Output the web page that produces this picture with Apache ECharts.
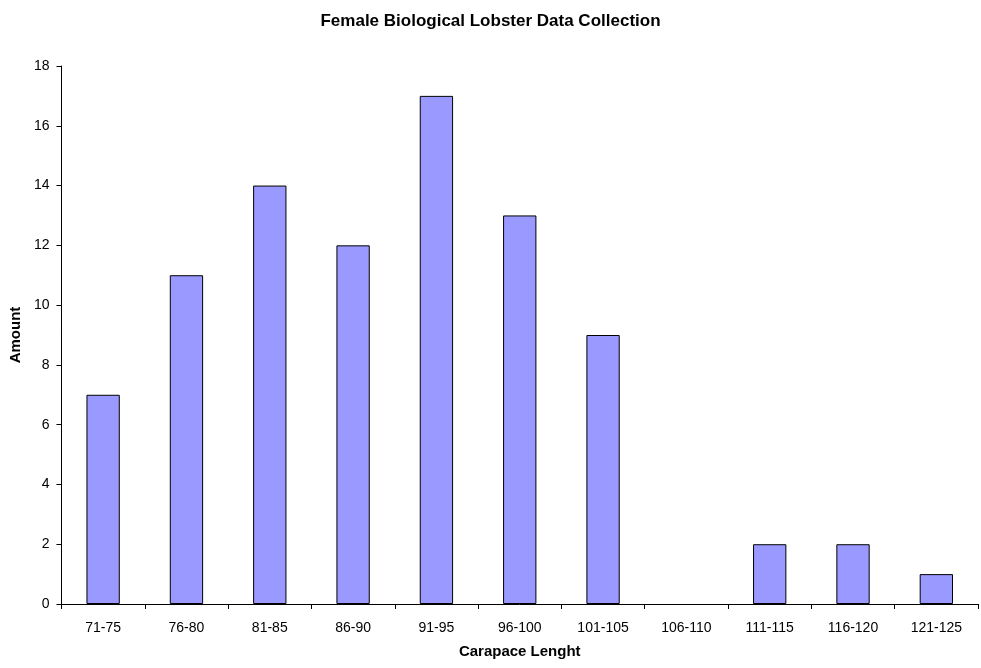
<!DOCTYPE html>
<html><head><meta charset="utf-8">
<script src="https://cdn.jsdelivr.net/npm/echarts@6/dist/echarts.min.js"></script>
<style>html,body{margin:0;padding:0;background:#fff}#c{width:981px;height:668px}</style>
</head><body><div id="c"></div>
<script>
const categories = ['71-75','76-80','81-85','86-90','91-95','96-100','101-105','106-110','111-115','116-120','121-125'];
const amounts = [7,11,14,12,17,13,9,0,2,2,1];
const yTicks = {min:0, max:18, interval:2};
const chart = echarts.init(document.getElementById('c'), null, {renderer:'canvas'});
const font = '"Liberation Sans", Arial, sans-serif';
const barData = amounts.map(v => v === 0 ? {value:v, itemStyle:{borderWidth:0, opacity:0}} : v);
chart.setOption({
  animation:false,
  backgroundColor:'#fff',
  title:{text:'Female Biological Lobster Data Collection', left:'center', top:8,
    textStyle:{fontFamily:font, fontSize:17, fontWeight:'bold', color:'#000'}},
  grid:{left:61, right:3, top:66, bottom:64, containLabel:false},
  xAxis:{type:'category', data:categories, name:'Carapace Lenght', nameLocation:'middle', nameGap:40,
    nameTextStyle:{fontFamily:font, fontSize:15, fontWeight:'bold', color:'#000'},
    axisLine:{lineStyle:{color:'#000', width:1}},
    axisTick:{show:true, alignWithLabel:false, length:5, lineStyle:{color:'#000'}},
    axisLabel:{fontFamily:font, fontSize:14, color:'#000', margin:17},
    splitLine:{show:false}},
  yAxis:{type:'value', min:yTicks.min, max:yTicks.max, interval:yTicks.interval, name:'Amount',
    nameLocation:'middle', nameGap:35,
    nameTextStyle:{fontFamily:font, fontSize:15, fontWeight:'bold', color:'#000'},
    axisLine:{show:true, lineStyle:{color:'#000', width:1}},
    axisTick:{show:true, length:5, lineStyle:{color:'#000'}},
    axisLabel:{fontFamily:font, fontSize:14, color:'#000', margin:12},
    splitLine:{show:false}},
  series:[{type:'bar', data:barData, barWidth:'40%',
    itemStyle:{color:'#9999FF', borderColor:'#000', borderWidth:1}}]
});
</script></body></html>
